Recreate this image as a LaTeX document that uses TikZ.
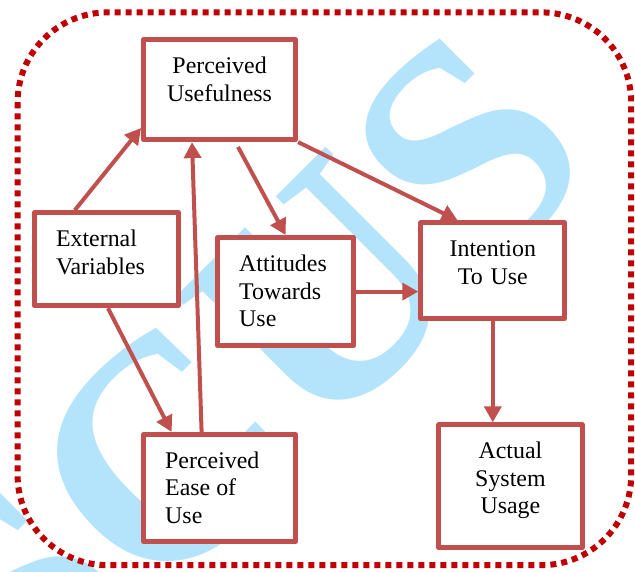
\documentclass[tikz,border=0pt]{standalone}
\usepackage{fontspec}
\setmainfont{Liberation Serif}
\usetikzlibrary{arrows.meta,calc}
\definecolor{boxred}{RGB}{192,80,77}
\definecolor{framered}{RGB}{192,0,0}
\definecolor{wmblue}{RGB}{179,228,252}
\tikzstyle{line} = [draw, boxred, line width=0.1cm, -{Triangle[length=0.4cm,width=0.42cm]}]
\tikzstyle{block} = [draw=boxred, fill=white, rectangle, line width=0.125cm, line join=round, inner ysep=0.2cm, text height=0.65cm, font=\fontsize{17}{19.5}\selectfont]
\tikzstyle{cblock} = [block, align=center, inner xsep=0.3cm]
\tikzstyle{lblock} = [block, align=flush left, inner xsep=0.54cm]
\tikzstyle{frame} = [draw=framered, line width=0.15cm, dash pattern=on 0.15cm off 0.125cm, rounded corners=2.25cm]

\begin{document}
\begin{tikzpicture}[node distance = 1.5cm, auto]
        \useasboundingbox (0,0) rectangle (15.875,-14.3);
        % watermark behind everything
        \node[text=wmblue, rotate=45, inner sep=0pt, font=\bfseries\fontsize{225}{225}\selectfont] (wm) at (6.1,-9.4) {SCUS};
        \path[frame] (0.44,-0.31) rectangle (15.78,-14.13);
        \node[cblock, text width=3.2cm, text depth=1.45cm] (pu) at (5.49,-2.24) {Perceived\\Usefulness};
        \node[lblock, text width=2.52cm, text depth=1.275cm, below of=pu, node distance=4.24cm, xshift=-2.83cm] (ev) {External\\Variables};
        \node[lblock, text width=2.32cm, text depth=1.65cm, below of=pu, node distance=5.05cm, xshift=1.65cm] (atu) {Attitudes\\Towards\\Use};
        \node[cblock, text width=3.0cm, text depth=1.35cm, below of=pu, node distance=4.53cm, xshift=6.83cm] (itu) {Intention\\To Use};
        \node[lblock, text width=2.72cm, text depth=1.625cm, below of=pu, node distance=9.96cm] (peou) {Perceived\\Ease of\\Use};
        \node[cblock, text width=2.98cm, text depth=2.025cm, below of=itu, node distance=5.39cm, xshift=0.44cm] (asu) {Actual\\System\\Usage};
        \path[line] ([xshift=-0.79cm]ev.north) -- ([yshift=-0.96cm]pu.west);
        \path[line] ([xshift=0.04cm]ev.south) -- ([xshift=-1.2cm]peou.north);
        \path[line] ([xshift=-0.45cm]peou.north) -- ([xshift=-0.69cm]pu.south);
        \path[line] ([xshift=0.46cm,yshift=-0.12cm]pu.south) -- (atu.north);
        \path[line] (pu.south east) -- ([xshift=-0.88cm]itu.north);
        \path[line] (atu.east) -- (itu.west |- atu.east);
        \path[line] (itu.south) -- (itu.south |- asu.north);
    \end{tikzpicture}
\end{document}
